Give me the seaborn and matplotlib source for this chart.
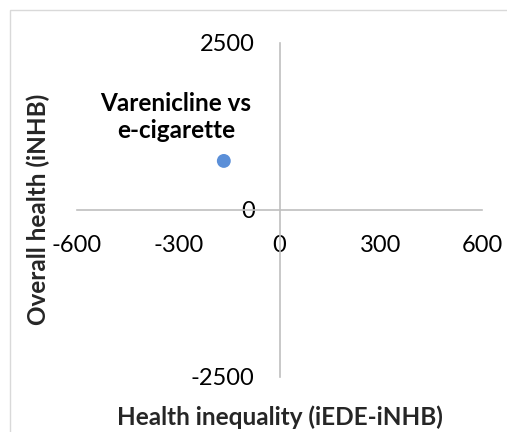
import matplotlib
matplotlib.use("Agg")
import matplotlib.pyplot as plt
import seaborn as sns
import pandas as pd
from matplotlib.patches import Rectangle

# Comparison data: health inequality impact vs overall health impact
comparisons = ["Varenicline vs\ne-cigarette"]
inequality = [-165]      # iEDE - iNHB
overall_health = [730]   # iNHB

x_ticks = [-600, -300, 0, 300, 600]
y_ticks = [-2500, 0, 2500]

df = pd.DataFrame({"comparison": comparisons,
                   "inequality": inequality,
                   "overall": overall_health})

sns.set_style("white")
plt.rcParams["font.family"] = ["Lato", "DejaVu Sans"]

W, H = 507, 432
fig = plt.figure(figsize=(W / 100, H / 100), dpi=100)
ax = fig.add_axes([77 / W, 1 - 376.7 / H, 405 / W, 334 / H])

sns.scatterplot(data=df, x="inequality", y="overall", ax=ax,
                s=100, color="#5B8FD8", edgecolor="none", zorder=3)

for _, row in df.iterrows():
    ax.annotate(row["comparison"], (row["inequality"], row["overall"]),
                xytext=(-48, 44), textcoords="offset pixels",
                ha="center", va="center", fontsize=17.5, fontweight="bold",
                linespacing=1.2, color="black")

ax.set_xlim(-600, 600)
ax.set_ylim(-2500, 2500)
ax.set_xticks(x_ticks)
ax.set_yticks(y_ticks)
ax.set_xticklabels([str(v) for v in x_ticks])
ax.set_yticklabels([str(v) for v in y_ticks])

axis_color = "#BFBFBF"
for side in ["left", "bottom"]:
    ax.spines[side].set_position(("data", 0))
    ax.spines[side].set_color(axis_color)
    ax.spines[side].set_linewidth(1.2)
for side in ["top", "right"]:
    ax.spines[side].set_visible(False)

ax.tick_params(axis="both", length=0, labelsize=17, colors="black")
ax.tick_params(axis="x", pad=18)
ax.tick_params(axis="y", pad=18)

ax.set_xlabel("Health inequality (iEDE-iNHB)", fontsize=17.5, fontweight="bold")
ax.set_ylabel("Overall health (iNHB)", fontsize=17.5, fontweight="bold")
ax.xaxis.set_label_coords(0.5, (376.7 - 405) / 334)
ax.yaxis.set_label_coords((50 - 77) / 405, 0.5)

# Light chart-area border
fig.patches.append(Rectangle((10 / W, -0.1), 1.2, 1 - 10 / H + 0.1,
                             transform=fig.transFigure, fill=False,
                             edgecolor="#D9D9D9", linewidth=1.0))

fig.savefig("out.png", dpi=100)
